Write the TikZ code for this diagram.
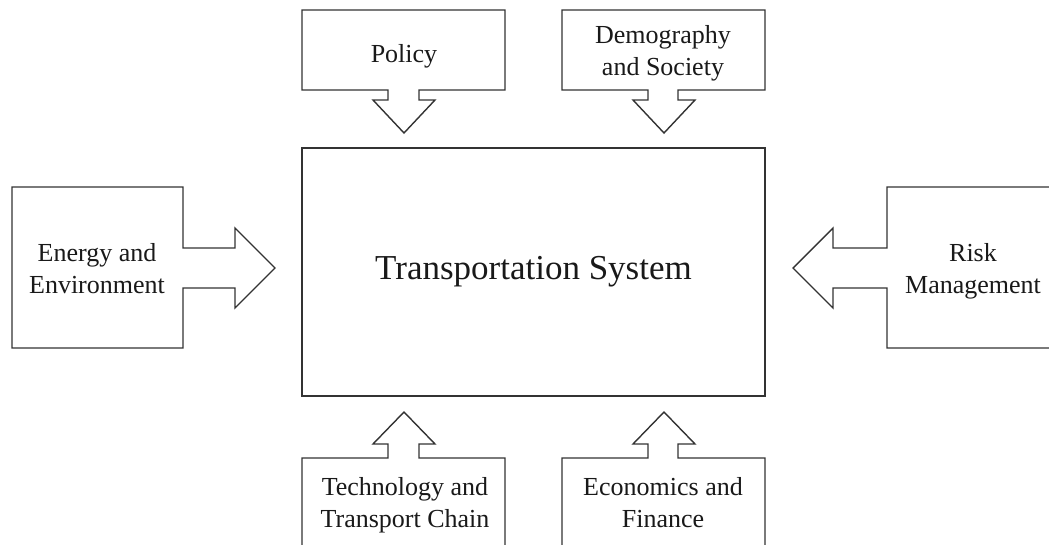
\documentclass[tikz,border=0pt]{standalone}
\usepackage{fontspec}
\setmainfont{Liberation Serif}
\begin{document}
\begin{tikzpicture}[x=1pt,y=-1pt,
  outl/.style={draw=black!80,line width=1.4pt,line join=miter,fill=white},
  lbl/.style={align=center,anchor=base,inner sep=0pt,font=\fontsize{26}{31.5}\selectfont,text=black!90},
  bigl/.style={font=\fontsize{35}{42}\selectfont,text=black!90}]
\useasboundingbox (0,0) rectangle (1049,544);
% main box
\node[outl,rectangle,minimum width=463pt,minimum height=248pt,inner sep=0pt,bigl] (main) at (533.5,272) {Transportation System};
% Policy
\draw[outl] (302,10) -- (505,10) -- (505,90) -- (419,90) -- (419,100) -- (435,100) -- (404,133) -- (373,100) -- (388,100) -- (388,90) -- (302,90) -- cycle;
\node[lbl] (policy) at (404,62) {Policy};
% Demography
\draw[outl] (562,10) -- (765,10) -- (765,90) -- (678,90) -- (678,100) -- (695,100) -- (664,133) -- (633,100) -- (648,100) -- (648,90) -- (562,90) -- cycle;
\node[lbl] (demo) at (663,75) {Demography\\and Society};
% Energy
\draw[outl] (12,187) -- (183,187) -- (183,248) -- (235,248) -- (235,228) -- (275,268) -- (235,308) -- (235,288) -- (183,288) -- (183,348) -- (12,348) -- cycle;
\node[lbl] (energy) at (97,293) {Energy and\\Environment};
% Risk
\draw[outl] (1065,187) -- (887,187) -- (887,248) -- (833,248) -- (833,228) -- (793,268) -- (833,308) -- (833,288) -- (887,288) -- (887,348) -- (1065,348) -- cycle;
\node[lbl] (risk) at (973,293) {Risk\\Management};
% Technology
\draw[outl] (302,560) -- (302,458) -- (388,458) -- (388,444) -- (373,444) -- (404,412) -- (435,444) -- (419,444) -- (419,458) -- (505,458) -- (505,560) -- cycle;
\node[lbl] (tech) at (405,527) {Technology and\\Transport Chain};
% Economics
\draw[outl] (562,560) -- (562,458) -- (648,458) -- (648,444) -- (633,444) -- (664,412) -- (695,444) -- (678,444) -- (678,458) -- (765,458) -- (765,560) -- cycle;
\node[lbl] (econ) at (663,527) {Economics and\\Finance};
\end{tikzpicture}
\end{document}
